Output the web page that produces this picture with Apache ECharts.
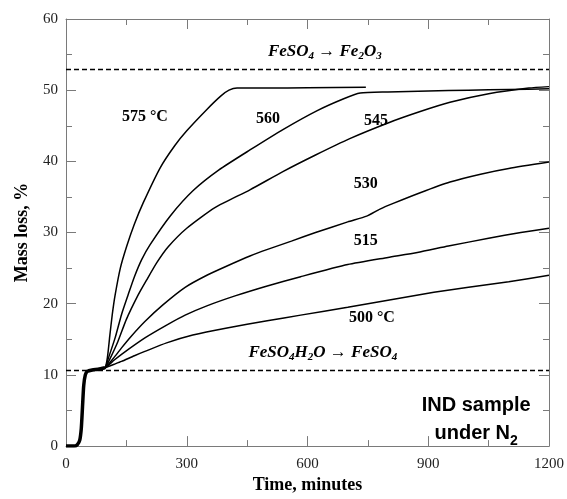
<!DOCTYPE html>
<html>
<head>
<meta charset="utf-8">
<script src="https://cdn.jsdelivr.net/npm/echarts@6/dist/echarts.min.js"></script>
<style>html,body{margin:0;padding:0;background:#fff}#c{width:567px;height:499px}</style>
</head>
<body>
<div id="c"></div>
<script>
// ---- data (time in minutes, mass loss in %) ----
const xTicks = [0, 300, 600, 900, 1200];
const yTicks = [0, 10, 20, 30, 40, 50, 60];
const fe2o3Level = 53.0;     // FeSO4 -> Fe2O3
const monoLevel = 10.6;      // FeSO4·H2O -> FeSO4

const onset = [[0,0],[20,0],[28,0.2],[34,0.8],[38,2.5],[41,5.5],[44,8.5],[48,10],[53,10.5],[65,10.7],[80,10.8],[97,11]];

const s575 = [[103,12.5],[109,15.6],[115,18.5],[122,21.2],[135,25],[151,28.1],[170,31.2],[192,34.2],[234,39.1],[270,42.2],[300,44.3],[350,47.3],[385,49.2],[405,50],[425,50.3],[500,50.3],[600,50.35],[745,50.4]];
const s560 = [[105,12.3],[122,15.2],[138,18.5],[154,21.2],[170,23.8],[188,26.2],[209,28.3],[260,32.4],[316,35.9],[380,38.8],[457,41.6],[540,44.5],[623,47.1],[690,48.8],[731,49.6],[800,49.75],[900,49.9],[1000,50.0],[1100,50.1],[1200,50.2]];
const s545 = [[107,12],[129,14.7],[150,17.8],[179,21.2],[200,23.3],[226,25.8],[254,28],[300,30.6],[370,33.5],[457,36.0],[540,38.6],[620,40.9],[705,43.2],[800,45.4],[880,47],[954,48.3],[1050,49.5],[1150,50.3],[1200,50.5]];
const s530 = [[120,12.5],[138,13.8],[160,15.3],[196,17.5],[240,19.8],[296,22.3],[350,24],[400,25.3],[457,26.7],[499,27.6],[560,28.8],[620,30],[700,31.5],[747,32.3],[780,33.3],[813,34.1],[880,35.6],[954,37.1],[1030,38.2],[1100,39],[1200,39.9]];
const s515 = [[120,12.1],[138,12.9],[196,15.2],[250,17],[296,18.4],[350,19.7],[420,21.1],[500,22.5],[583,23.8],[700,25.5],[800,26.5],[873,27.2],[950,28.1],[1050,29.2],[1130,30],[1200,30.6]];
const s500 = [[120,11.5],[138,11.9],[170,12.7],[196,13.3],[250,14.5],[315,15.6],[400,16.6],[500,17.6],[583,18.4],[700,19.5],[800,20.5],[914,21.6],[1000,22.3],[1100,23.1],[1200,24]];

const labelTexts = ['{t|575 °C}', '{t|560}', '{t|545}', '{t|530}', '{t|515}', '{t|500 °C}',
  '{r|FeSO}{s|4}{r| → Fe}{s|2}{r|O}{s|3}',
  '{r|FeSO}{s|4}{r|H}{s|2}{r|O → FeSO}{s|4}',
  '{b|IND sample}\n{b|under N}{bs|2}'];
const labelX = [196, 502, 770, 745, 745, 760, 643, 638, 1019];
const labelY = [46.3, 46.0, 45.7, 36.8, 28.8, 18.0, 55.4, 13.1, 3.7];

// ---- chart ----
const serif = 'Liberation Serif';
const chart = echarts.init(document.getElementById('c'));
const axisCol = '#7a7a7a';
function curve(d, w) {
  return { type: 'line', data: onset.concat(d), showSymbol: false, smooth: 0.2,
    lineStyle: { color: '#000', width: w || 1.5 }, silent: true, z: 3 };
}
const rich = {
  t: { fontFamily: serif, fontWeight: 'bold', fontSize: 16, color: '#000' },
  r: { fontFamily: serif, fontWeight: 'bold', fontStyle: 'italic', fontSize: 17, lineHeight: 20, color: '#000' },
  s: { fontFamily: serif, fontWeight: 'bold', fontStyle: 'italic', fontSize: 11, lineHeight: 10, verticalAlign: 'bottom', color: '#000' },
  b: { fontFamily: 'Liberation Sans', fontWeight: 'bold', fontSize: 20, lineHeight: 28, color: '#000' },
  bs: { fontFamily: 'Liberation Sans', fontWeight: 'bold', fontSize: 14, lineHeight: 14, verticalAlign: 'bottom', color: '#000' }
};
const tickCommon = { show: true, inside: true, length: 10, lineStyle: { color: axisCol } };
const minorCommon = { show: true, splitNumber: 2, length: 6, lineStyle: { color: axisCol } };
const lineCommon = { show: true, onZero: false, lineStyle: { color: axisCol } };
chart.setOption({
  animation: false,
  grid: { left: 66, right: 18, top: 19, bottom: 46 },
  xAxis: [{
    type: 'value', min: xTicks[0], max: xTicks[xTicks.length - 1], interval: xTicks[1] - xTicks[0],
    name: 'Time, minutes', nameLocation: 'middle', nameGap: 24,
    nameTextStyle: { fontFamily: serif, fontWeight: 'bold', fontSize: 18, color: '#000' },
    axisLine: lineCommon,
    axisTick: tickCommon, minorTick: minorCommon, splitLine: { show: false },
    axisLabel: { fontFamily: serif, fontSize: 15, color: '#222', margin: 10, formatter: v => String(v) }
  }, {
    type: 'value', position: 'top', min: xTicks[0], max: xTicks[xTicks.length - 1], interval: xTicks[1] - xTicks[0],
    axisLine: lineCommon,
    axisTick: tickCommon, minorTick: minorCommon, splitLine: { show: false }, axisLabel: { show: false }
  }],
  yAxis: [{
    type: 'value', min: yTicks[0], max: yTicks[yTicks.length - 1], interval: yTicks[1] - yTicks[0],
    name: 'Mass loss, %', nameLocation: 'middle', nameGap: 35,
    nameTextStyle: { fontFamily: serif, fontWeight: 'bold', fontSize: 18, color: '#000' },
    axisLine: lineCommon,
    axisTick: tickCommon, minorTick: minorCommon, splitLine: { show: false },
    axisLabel: { fontFamily: serif, fontSize: 15, color: '#222', margin: 8 }
  }, {
    type: 'value', position: 'right', min: yTicks[0], max: yTicks[yTicks.length - 1], interval: yTicks[1] - yTicks[0],
    axisLine: lineCommon,
    axisTick: tickCommon, minorTick: minorCommon, splitLine: { show: false }, axisLabel: { show: false }
  }],
  series: [
    curve([], 3.5),
    curve(s575), curve(s560), curve(s545), curve(s530), curve(s515), curve(s500),
    {
      type: 'scatter', symbolSize: 0, silent: true, z: 5,
      itemStyle: { opacity: 1 },
      data: labelTexts.map((t, i) => ({ value: [labelX[i], labelY[i]],
        label: { show: true, position: 'inside', formatter: t, rich: rich, opacity: 1, color: '#000',
          align: 'center', verticalAlign: 'middle' } })),
      markLine: { symbol: 'none', silent: true, label: { show: false },
        lineStyle: { type: [5, 3], color: '#000', width: 1.3, opacity: 1 },
        data: [{ yAxis: fe2o3Level }, { yAxis: monoLevel }] }
    }
  ]
});
</script>
</body>
</html>
